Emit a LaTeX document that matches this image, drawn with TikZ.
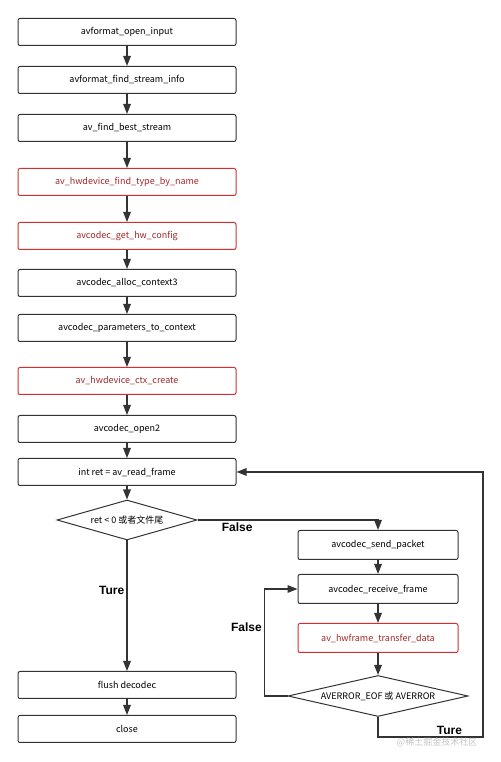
\documentclass[tikz,border=0pt]{standalone}
\usepackage{fontspec}
\setmainfont{Noto Sans CJK SC}
\setsansfont{Liberation Sans}
\usetikzlibrary{shapes.geometric,arrows.meta,positioning}
\definecolor{linegray}{HTML}{333333}
\definecolor{hwred}{HTML}{D32F2F}
\definecolor{hwtext}{HTML}{A3262A}
\begin{document}
\begin{tikzpicture}[
  x=1pt, y=1pt,
  block/.style={rectangle, draw=linegray, rounded corners=2pt, line width=1pt, minimum width=218pt, minimum height=27pt, inner sep=0pt, font=\fontsize{9}{10}\selectfont, align=center},
  hwblock/.style={block, draw=hwred, text=hwtext},
  rblock/.style={block, minimum width=160pt, minimum height=29pt},
  decision/.style={diamond, draw=linegray, line width=1pt, inner sep=0pt, font=\fontsize{9}{10}\selectfont},
  flow/.style={-{Triangle[length=10pt,width=7.5pt]}, draw=linegray, line width=1.4pt},
  lbl/.style={font=\sffamily\bfseries\fontsize{12}{14}\selectfont, inner sep=2pt},
  node distance=48pt
]
\useasboundingbox (0,0) rectangle (500,762);

% Main column
\node[block] (openinput) at (127,730) {avformat\_open\_input};
\node[block, below of=openinput] (streaminfo) {avformat\_find\_stream\_info};
\node[block, below of=streaminfo] (beststream) {av\_find\_best\_stream};
\node[hwblock, below of=beststream, node distance=54pt] (findtype) {av\_hwdevice\_find\_type\_by\_name};
\node[hwblock, below of=findtype, node distance=54pt] (hwconfig) {avcodec\_get\_hw\_config};
\node[block, below of=hwconfig, node distance=47pt] (alloc) {avcodec\_alloc\_context3};
\node[block, below of=alloc, node distance=45pt] (params) {avcodec\_parameters\_to\_context};
\node[hwblock, below of=params, node distance=53pt] (ctxcreate) {av\_hwdevice\_ctx\_create};
\node[block, below of=ctxcreate] (open2) {avcodec\_open2};
\node[block, below of=open2, node distance=43pt] (readframe) {int ret = av\_read\_frame};

% Decision on read
\node[decision, aspect=3.5, minimum width=140pt, minimum height=40pt, below of=readframe] (check) {ret < 0 或者文件尾};
\node[block, below of=check, node distance=165pt] (flush) {flush decodec};
\node[block, below of=flush, node distance=44pt] (close) {close};

% Decode loop
\node[rblock, right of=check, node distance=251pt, yshift=-25pt] (sendpkt) {avcodec\_send\_packet};
\node[rblock, below of=sendpkt, node distance=44pt] (recvframe) {avcodec\_receive\_frame};
\node[rblock, hwblock, minimum width=160pt, minimum height=29pt, below of=recvframe, node distance=49pt] (transfer) {av\_hwframe\_transfer\_data};
\node[decision, aspect=4.4, minimum width=180pt, minimum height=41pt, below of=transfer, node distance=58pt] (errcheck) {AVERROR\_EOF 或 AVERROR};
\coordinate (loopcorner) at (483,25);

% Connections
\draw[flow] (openinput) -- (streaminfo);
\draw[flow] (streaminfo) -- (beststream);
\draw[flow] (beststream) -- (findtype);
\draw[flow] (findtype) -- (hwconfig);
\draw[flow] (hwconfig) -- (alloc);
\draw[flow] (alloc) -- (params);
\draw[flow] (params) -- (ctxcreate);
\draw[flow] (ctxcreate) -- (open2);
\draw[flow] (open2) -- (readframe);
\draw[flow] (readframe) -- (check);
\draw[flow] (check.east) -| node[lbl, below, pos=0.11] {False} (sendpkt);
\draw[flow] (check.south) -- node[lbl, left, pos=0.38] {Ture} (flush);
\draw[flow] (flush) -- (close);
\draw[flow] (sendpkt) -- (recvframe);
\draw[flow] (recvframe) -- (transfer);
\draw[flow] (transfer) -- (errcheck);
\draw[flow] (errcheck.west) -- ++(-23,0) |- node[lbl, left, pos=0.32] {False} (recvframe.west);
\draw[flow] (errcheck.south) |- node[lbl, above, pos=0.84] {Ture} (loopcorner) |- (readframe.east);

\node[text=gray!45, font=\fontsize{9}{11}\selectfont] (mark) at (437,20) {@稀土掘金技术社区};
\end{tikzpicture}
\end{document}
